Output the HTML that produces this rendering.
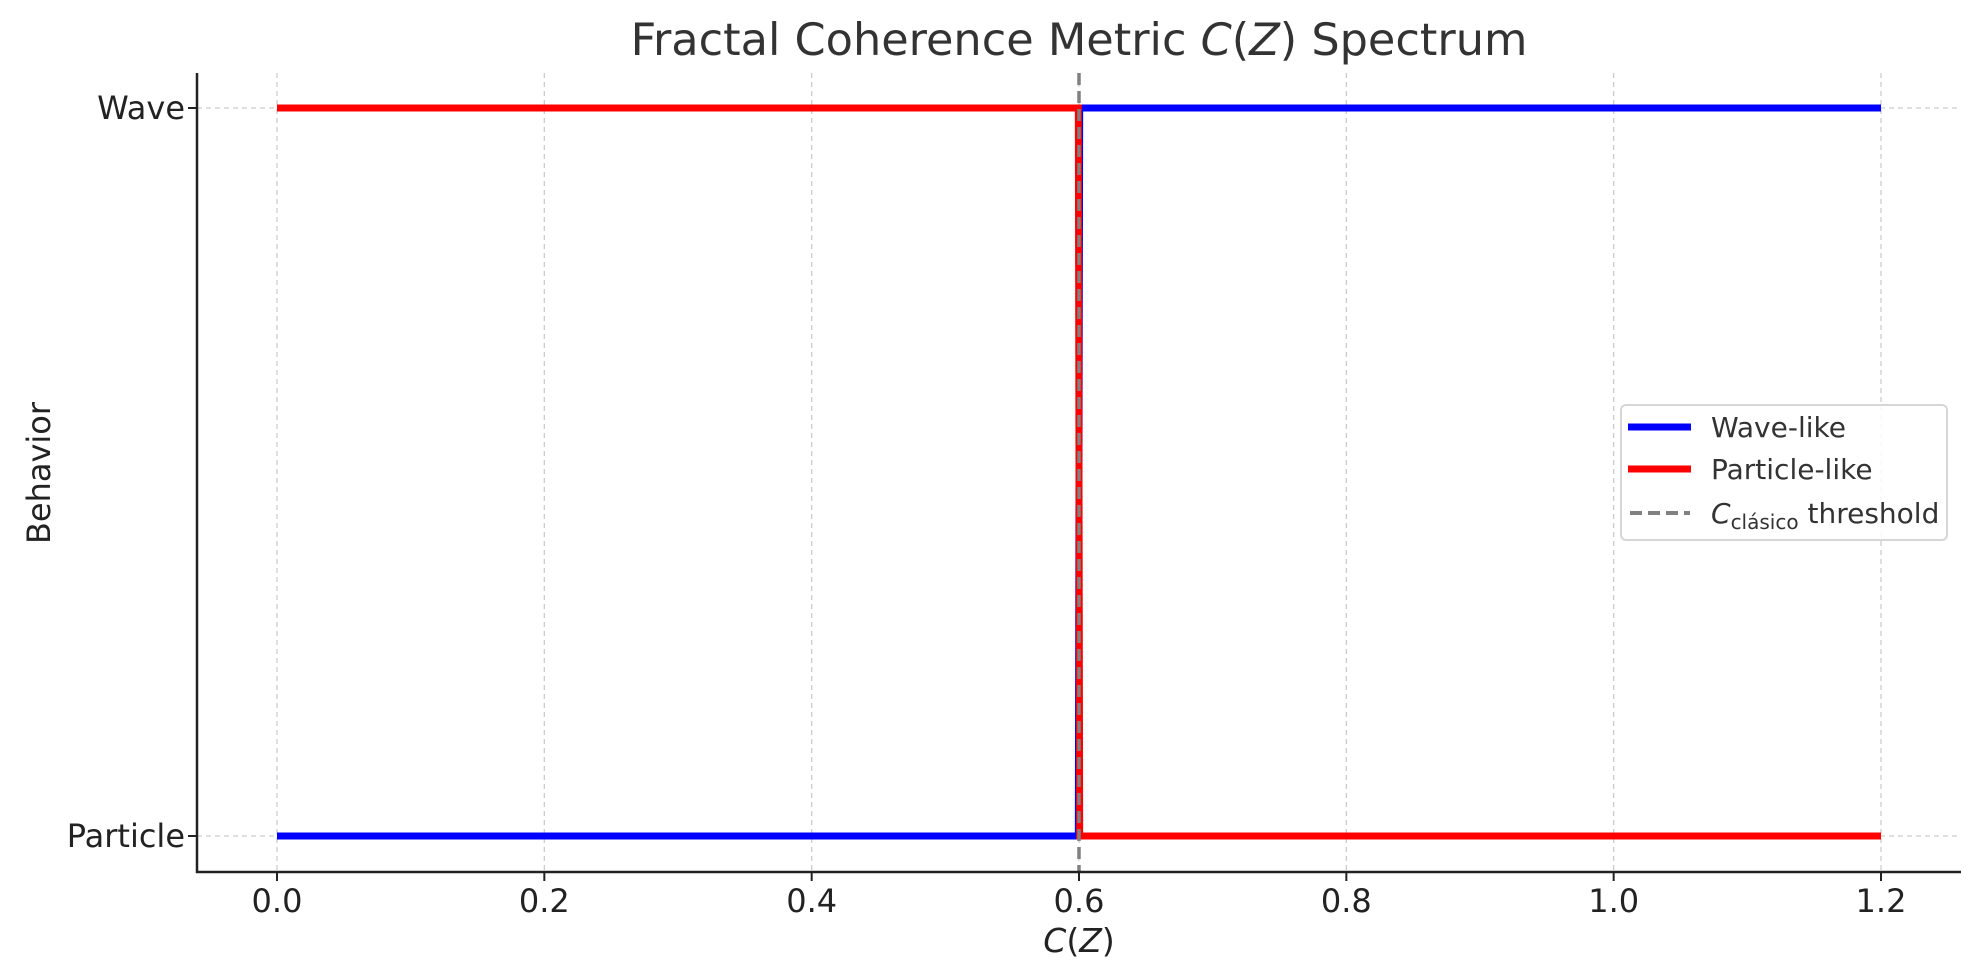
<!DOCTYPE html>
<html><head><meta charset="utf-8">
<style>
html,body{margin:0;padding:0;background:#fff;}
svg{display:block;font-family:"DejaVu Sans","Liberation Sans",sans-serif;}
</style></head>
<body>
<svg id="chart" width="1979" height="980" viewBox="0 0 1979 980" xmlns="http://www.w3.org/2000/svg">
<rect width="1979" height="980" fill="#fff"/>
<text x="1079" y="55" font-size="44.6" fill="#333" text-anchor="middle">Fractal Coherence Metric <tspan font-style="italic">C</tspan>(<tspan font-style="italic">Z</tspan>) Spectrum</text>
<g id="grid"></g>
<g id="series"></g>
<g id="axes"></g>
<text x="1079" y="952" font-size="33" fill="#222" text-anchor="middle"><tspan font-style="italic">C</tspan>(<tspan font-style="italic">Z</tspan>)</text>
<text transform="translate(50,473) rotate(-90)" font-size="32" fill="#222" text-anchor="middle">Behavior</text>
<g>
<rect x="1621" y="405" width="326" height="135" rx="5" fill="#fff" fill-opacity="0.85" stroke="#d6d6d6" stroke-width="2"/>
<line x1="1628" y1="427" x2="1691" y2="427" stroke="#0000ff" stroke-width="7"/>
<text x="1711" y="437" font-size="28" fill="#333">Wave-like</text>
<line x1="1628" y1="469" x2="1691" y2="469" stroke="#ff0000" stroke-width="7"/>
<text x="1711" y="479" font-size="28" fill="#333">Particle-like</text>
<line x1="1630" y1="513" x2="1690" y2="513" stroke="#808080" stroke-width="4" stroke-dasharray="12,6"/>
<text x="1711" y="523" font-size="28" fill="#333"><tspan font-style="italic">C</tspan><tspan font-size="20" dy="6">clásico</tspan><tspan dy="-6"> threshold</tspan></text>
</g>
</svg>
<script>
const xs = [0, 0.5995, 0.6005, 1.2];
const waveVals = [0, 0, 1, 1];
const particleVals = [1, 1, 0, 0];
const xTicks = [0, 0.2, 0.4, 0.6, 0.8, 1.0, 1.2];
const xTickLabels = ["0.0","0.2","0.4","0.6","0.8","1.0","1.2"];
const yTicks = [0, 1];
const yTickLabels = ["Particle","Wave"];
const threshold = 0.6;

const NS = "http://www.w3.org/2000/svg";
const L = 197, R = 1961, T = 73, B = 872;
const X = v => 277 + (v - 0) * (1881 - 277) / 1.2;
const Y = v => 836 - v * (836 - 108);
function mk(tag, attrs, parent){ const e=document.createElementNS(NS,tag); for(const k in attrs) e.setAttribute(k,attrs[k]); parent.appendChild(e); return e; }
const grid=document.getElementById('grid'), series=document.getElementById('series'), axes=document.getElementById('axes');

xTicks.forEach((t,i)=>{
  const g=mk('line',{x1:X(t),x2:X(t),y1:T,y2:B,stroke:'#cccccc','stroke-width':1.3,'stroke-dasharray':'5,4'},grid);
  
  
  const tk=mk('line',{x1:X(t),x2:X(t),y1:B,y2:B+9,stroke:'#222','stroke-width':2},axes);
  
  
  const tx=mk('text',{x:X(t),y:B+40,'font-size':32,fill:'#222','text-anchor':'middle'},axes);
  tx.textContent=xTickLabels[i];
  
  
});
yTicks.forEach((t,i)=>{
  const g=mk('line',{x1:L,x2:R,y1:Y(t),y2:Y(t),stroke:'#cccccc','stroke-width':1.3,'stroke-dasharray':'5,4'},grid);
  
  
  const tk=mk('line',{x1:L-9,x2:L,y1:Y(t),y2:Y(t),stroke:'#222','stroke-width':2},axes);
  
  
  const tx=mk('text',{x:L-12,y:Y(t)+11,'font-size':32,fill:'#222','text-anchor':'end'},axes);
  tx.textContent=yTickLabels[i];
  
  
});
function pts(vals){ return xs.map((x,i)=>X(x)+','+Y(vals[i])).join(' '); }
const w=mk('polyline',{points:pts(waveVals),fill:'none',stroke:'#0000ff','stroke-width':7},series);


const p=mk('polyline',{points:pts(particleVals),fill:'none',stroke:'#ff0000','stroke-width':7},series);


const th=mk('line',{x1:X(threshold),x2:X(threshold),y1:T,y2:B,stroke:'#808080','stroke-width':3.5,'stroke-dasharray':'12,6'},series);


const sl=mk('line',{x1:L,x2:L,y1:T,y2:B+1,stroke:'#222','stroke-width':2.5},axes);


const sb=mk('line',{x1:L-1,x2:R,y1:B,y2:B,stroke:'#222','stroke-width':2.5},axes);


</script>
</body></html>
